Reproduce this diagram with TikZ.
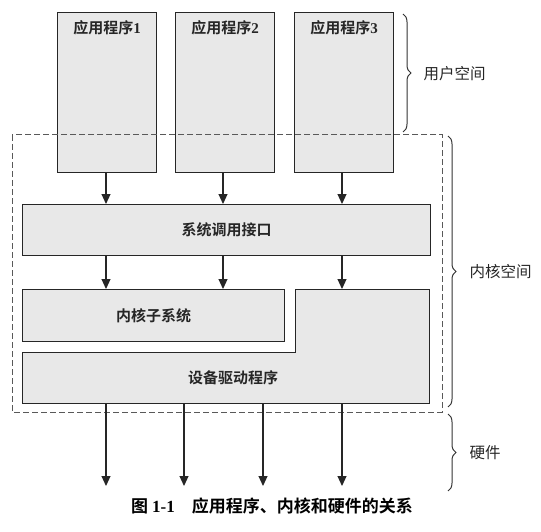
\documentclass[tikz,border=0pt]{standalone}
\usepackage{fontspec}
\newfontfamily\cjk{Noto Sans CJK SC}[BoldFont={* Bold}]
\newfontfamily\lat{Liberation Serif}
\usetikzlibrary{arrows.meta,decorations.pathreplacing}
\begin{document}
\begin{tikzpicture}[x=1pt,y=-1pt,
  box/.style={draw=black!85,line width=1.1pt,fill=black!9},
  lbl/.style={font=\cjk\bfseries\fontsize{15}{15}\selectfont,text=black!85},
  side/.style={font=\cjk\fontsize{15.5}{15.5}\selectfont,text=black!85,anchor=west},
  arr/.style={draw=black!85,line width=1.1pt,-{Triangle[length=10pt,width=9pt]}},
  brc/.style={draw=black!80,line width=1pt,decorate,decoration={brace,amplitude=8pt}},
  dash box/.style={draw=black!65,line width=1pt,dash pattern=on 6pt off 3pt}]
\useasboundingbox (0,0) rectangle (541,532);
% application boxes
\node[box,minimum width=99pt,minimum height=160pt,anchor=north west,inner sep=0pt] (a1) at (57,12) {};
\node[box,minimum width=99pt,minimum height=160pt,anchor=north west,inner sep=0pt] (a2) at (175,12) {};
\node[box,minimum width=99pt,minimum height=160pt,anchor=north west,inner sep=0pt] (a3) at (294,12) {};
\node[lbl] (t1) at (107,28) {应用程序\lat\bfseries 1};
\node[lbl] (t2) at (225,28) {应用程序\lat\bfseries 2};
\node[lbl] (t3) at (344,28) {应用程序\lat\bfseries 3};
% kernel dashed frame
\draw[dash box] (12,135) rectangle (442,412);
% system call interface
\node[box,minimum width=408pt,minimum height=51pt,anchor=north west,inner sep=0pt] (sc) at (22,204) {};
\node[lbl] at (sc.center) {系统调用接口};
% kernel subsystem
\node[box,minimum width=262pt,minimum height=52pt,anchor=north west,inner sep=0pt] (ks) at (22,289) {};
\node[lbl] at (ks.center) {内核子系统};
% device driver (L shape)
\draw[box,line width=0.8pt] (22.5,352) -- (295,352) -- (295,289.5) -- (429.5,289.5) -- (429.5,403.5) -- (22.5,403.5) -- cycle;
\node[lbl] (dd) at (233,378) {设备驱动程序};
\coordinate (ddt) at (342,289);
\coordinate (b1) at (106,404);
\coordinate (b2) at (184,404);
\coordinate (b3) at (263,404);
\coordinate (b4) at (342,404);
\coordinate (h1) at (106,486);
\coordinate (h2) at (184,486);
\coordinate (h3) at (263,486);
\coordinate (h4) at (342,486);
% arrows
\draw[arr] (a1.south -| 106,0) -- (sc.north -| 106,0);
\draw[arr] (a2.south -| 223,0) -- (sc.north -| 223,0);
\draw[arr] (a3.south -| 342,0) -- (sc.north -| 342,0);
\draw[arr] (sc.south -| 106,0) -- (ks.north -| 106,0);
\draw[arr] (sc.south -| 223,0) -- (ks.north -| 223,0);
\draw[arr] (sc.south -| 342,0) -- (ddt);
\draw[arr] (b1) -- (h1);
\draw[arr] (b2) -- (h2);
\draw[arr] (b3) -- (h3);
\draw[arr] (b4) -- (h4);
% braces
\draw[brc] (403,14) -- (403,132);
\node[side] (us) at (420,74) {用户空间};
\draw[brc] (448,136) -- (448,407);
\node[side] (kspace) at (466,272) {内核空间};
\draw[brc] (448,414) -- (448,491);
\node[side] (hw) at (466,453) {硬件};
% caption
\node[font=\cjk\bfseries\fontsize{17}{17}\selectfont] (cap) at (272,506) {图 {\lat\bfseries 1-1}\quad 应用程序、内核和硬件的关系};
\end{tikzpicture}
\end{document}
